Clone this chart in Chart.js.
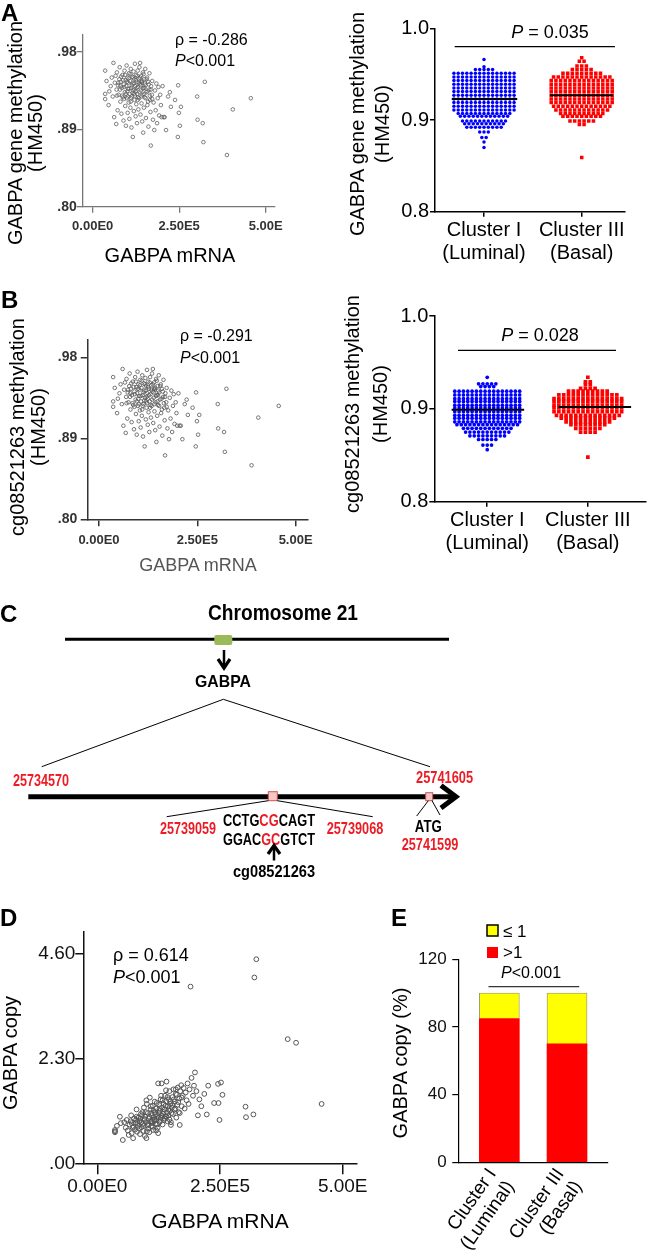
<!DOCTYPE html>
<html>
<head>
<meta charset="utf-8">
<title>GABPA methylation and copy number</title>
<script src="https://cdn.jsdelivr.net/npm/chart.js@4.4.1/dist/chart.umd.min.js"></script>
<style>
  html, body { margin: 0; padding: 0; background: #fff; }
  #page { position: relative; width: 650px; height: 1250px; overflow: hidden; }
  #page canvas { position: absolute; }
  #overlay { position: absolute; left: 0; top: 0; pointer-events: none; }
  #overlay text { font-family: 'Liberation Sans', Arial, sans-serif; dominant-baseline: central; }
</style>
</head>
<body>
<div id="page">
  <canvas id="scatterA"></canvas>
  <canvas id="swarmA"></canvas>
  <canvas id="scatterB"></canvas>
  <canvas id="swarmB"></canvas>
  <canvas id="scatterD"></canvas>
  <canvas id="barE"></canvas>
  <svg id="overlay" width="650" height="1250">
    <g font-weight="bold" font-size="24">
      <text x="1" y="12">A</text>
      <text x="1" y="299">B</text>
      <text x="0" y="613">C</text>
      <text x="0" y="917">D</text>
      <text x="391" y="917">E</text>
    </g>

    <!-- A -->
    <text x="175" y="39" font-size="16">ρ = -0.286</text>
    <text x="175" y="60" font-size="16"><tspan font-style="italic">P</tspan>&lt;0.001</text>
    <g font-size="20" text-anchor="middle">
      <text transform="translate(15,133) rotate(-90)">GABPA gene methylation</text>
      <text transform="translate(35,133) rotate(-90)">(HM450)</text>
      <text x="170" y="255">GABPA mRNA</text>
      <text transform="translate(357,124) rotate(-90)">GABPA gene methylation</text>
      <text transform="translate(382,124) rotate(-90)">(HM450)</text>
    </g>
    <text x="550" y="32" font-size="18" text-anchor="middle"><tspan font-style="italic">P</tspan> = 0.035</text>

    <!-- B -->
    <text x="180" y="335" font-size="16">ρ = -0.291</text>
    <text x="180" y="357" font-size="16"><tspan font-style="italic">P</tspan>&lt;0.001</text>
    <g font-size="20" text-anchor="middle">
      <text transform="translate(17,427) rotate(-90)">cg08521263 methylation</text>
      <text transform="translate(38,427) rotate(-90)">(HM450)</text>
      <text transform="translate(352,404) rotate(-90)">cg08521263 methylation</text>
      <text transform="translate(380,404) rotate(-90)">(HM450)</text>
    </g>
    <text x="198" y="565" font-size="18" text-anchor="middle" fill="#555">GABPA mRNA</text>
    <text x="540" y="335" font-size="18" text-anchor="middle"><tspan font-style="italic">P</tspan> = 0.028</text>

    <!-- C: gene diagram -->
    <g transform="translate(0,600)" font-weight="bold">
      <text x="283" y="12" font-size="22" text-anchor="middle" textLength="150" lengthAdjust="spacingAndGlyphs">Chromosome 21</text>
      <line x1="65" y1="39.3" x2="449" y2="39.3" stroke="#000" stroke-width="3"/>
      <rect x="214.3" y="35" width="18" height="10" rx="2" fill="#9bbb59"/>
      <line x1="224" y1="50" x2="224" y2="67" stroke="#000" stroke-width="2.5"/>
      <polyline points="218,59 224,68 230,59" fill="none" stroke="#000" stroke-width="3.2"/>
      <text x="223" y="81" font-size="17" text-anchor="middle" textLength="56" lengthAdjust="spacingAndGlyphs">GABPA</text>
      <line x1="223.3" y1="99.3" x2="41.7" y2="166.7" stroke="#000" stroke-width="1"/>
      <line x1="223.3" y1="99.3" x2="430" y2="166.7" stroke="#000" stroke-width="1"/>
      <text x="13" y="180" font-size="16" fill="#ed1c24" textLength="56" lengthAdjust="spacingAndGlyphs">25734570</text>
      <text x="416" y="177.3" font-size="16" fill="#ed1c24" textLength="57" lengthAdjust="spacingAndGlyphs">25741605</text>
      <line x1="28.3" y1="196.7" x2="452" y2="196.7" stroke="#000" stroke-width="5"/>
      <polyline points="441,185.5 456,196.7 441,208" fill="none" stroke="#000" stroke-width="5"/>
      <rect x="268.3" y="191.7" width="9" height="9" fill="#f9c6c6" stroke="#c55" stroke-width="1"/>
      <rect x="425.7" y="192.7" width="7" height="8" fill="#f9c6c6" stroke="#c55" stroke-width="1"/>
      <line x1="268.3" y1="200.7" x2="166.7" y2="216.7" stroke="#000" stroke-width="1"/>
      <line x1="277.3" y1="200.7" x2="372.7" y2="216.7" stroke="#000" stroke-width="1"/>
      <text x="160" y="228.3" font-size="16" fill="#ed1c24" textLength="56" lengthAdjust="spacingAndGlyphs">25739059</text>
      <text x="223" y="220" font-size="16" textLength="92" lengthAdjust="spacingAndGlyphs">CCTG<tspan fill="#ed1c24">CG</tspan>CAGT</text>
      <text x="223" y="239.3" font-size="16" textLength="92" lengthAdjust="spacingAndGlyphs">GGAC<tspan fill="#ed1c24">GC</tspan>GTCT</text>
      <text x="326.7" y="228.3" font-size="16" fill="#ed1c24" textLength="56.6" lengthAdjust="spacingAndGlyphs">25739068</text>
      <line x1="274" y1="247" x2="274" y2="260.5" stroke="#000" stroke-width="2.5"/>
      <polyline points="268,254 274,245.5 280,254" fill="none" stroke="#000" stroke-width="3.2"/>
      <text x="274" y="271.7" font-size="16" text-anchor="middle" textLength="82" lengthAdjust="spacingAndGlyphs">cg08521263</text>
      <line x1="428.3" y1="200.7" x2="416.7" y2="216" stroke="#000" stroke-width="1"/>
      <line x1="432" y1="200.7" x2="440" y2="215" stroke="#000" stroke-width="1"/>
      <text x="428.3" y="226.7" font-size="16" text-anchor="middle" textLength="27" lengthAdjust="spacingAndGlyphs">ATG</text>
      <text x="401.7" y="244" font-size="16" fill="#ed1c24" textLength="56.6" lengthAdjust="spacingAndGlyphs">25741599</text>
    </g>

    <!-- D -->
    <text x="113" y="955" font-size="18">ρ = 0.614</text>
    <text x="113" y="977" font-size="18"><tspan font-style="italic">P</tspan>&lt;0.001</text>
    <text transform="translate(10,1053) rotate(-90)" font-size="20" text-anchor="middle">GABPA copy</text>
    <text x="220" y="1220" font-size="21" text-anchor="middle">GABPA mRNA</text>

    <!-- E -->
    <text transform="translate(400,1063) rotate(-90)" font-size="20" text-anchor="middle">GABPA copy (%)</text>
    <text x="531" y="972" font-size="16" text-anchor="middle"><tspan font-style="italic">P</tspan>&lt;0.001</text>
    <rect x="487" y="925" width="11" height="11" fill="#ffff00" stroke="#000" stroke-width="1.5"/>
    <text x="503" y="931" font-size="17">≤ 1</text>
    <rect x="487" y="947" width="11" height="11" fill="#ff0000"/>
    <text x="503" y="952" font-size="17">&gt;1</text>
  </svg>
</div>

<script>
const FONT = "'Liberation Sans', Arial, sans-serif";
Chart.defaults.font.family = FONT;

// GABPA mRNA (x 1e5), gene methylation (HM450) and copy number, one entry per tumour
const mrnaE5 = [
  0.36, 0.36, 0.36, 0.40, 0.46, 0.48, 0.52, 0.55, 0.58, 0.60,
  0.62, 0.64, 0.66, 0.68, 0.69, 0.70, 0.72, 0.73, 0.75, 0.77,
  0.78, 0.80, 0.81, 0.83, 0.84, 0.86, 0.87, 0.89, 0.90, 0.92,
  0.93, 0.94, 0.95, 0.96, 0.97, 0.98, 0.99, 1.00, 1.01, 1.02,
  1.03, 1.04, 1.05, 1.06, 1.07, 1.08, 1.09, 1.10, 1.11, 1.12,
  1.13, 1.14, 1.15, 1.16, 1.17, 1.18, 1.19, 1.20, 1.21, 1.22,
  1.23, 1.24, 1.24, 1.25, 1.26, 1.27, 1.28, 1.29, 1.30, 1.31,
  1.32, 1.33, 1.34, 1.35, 1.36, 1.37, 1.38, 1.39, 1.40, 1.41,
  1.42, 1.43, 1.44, 1.45, 1.46, 1.47, 1.48, 1.49, 1.50, 1.52,
  1.53, 1.54, 1.55, 1.57, 1.58, 1.60, 1.61, 1.63, 1.64, 1.66,
  1.67, 1.68, 1.69, 1.71, 1.72, 1.74, 1.76, 1.78, 1.80, 1.82,
  1.84, 1.86, 1.88, 1.90, 1.92, 1.95, 1.97, 1.99, 2.02, 2.05,
  2.08, 2.12, 2.18, 2.23, 2.26, 2.38, 2.46, 2.47, 2.49, 2.52, 2.55,
  3.02, 3.03, 3.18, 3.20, 3.24, 3.88, 4.05, 4.57,
  0.74, 0.79, 0.82, 0.85, 0.88, 0.91, 0.94, 0.96, 0.99, 1.01,
  1.04, 1.06, 1.09, 1.11, 1.13, 1.15, 1.17, 1.19, 1.21, 1.22,
  1.25, 1.27, 1.29, 1.31, 1.33, 1.35, 1.37, 1.39, 1.41, 1.43,
  1.45, 1.47, 1.49, 1.51, 1.53, 1.56, 1.59, 1.62, 1.65, 1.68,
  1.72, 0.90, 1.00, 1.10, 1.20, 1.30, 1.40, 1.50, 1.60, 0.70, 0.80
];
const methylation = [
  0.958, 0.931, 0.925, 0.946, 0.918, 0.934, 0.940, 0.950, 0.928, 0.967,
  0.904, 0.944, 0.952, 0.896, 0.936, 0.956, 0.912, 0.941, 0.930, 0.948,
  0.962, 0.922, 0.945, 0.908, 0.938, 0.953, 0.927, 0.900, 0.942, 0.958,
  0.933, 0.917, 0.947, 0.894, 0.940, 0.964, 0.926, 0.950, 0.909, 0.937,
  0.944, 0.921, 0.955, 0.902, 0.931, 0.946, 0.915, 0.960, 0.938, 0.892,
  0.928, 0.951, 0.943, 0.881, 0.935, 0.957, 0.911, 0.948, 0.924, 0.966,
  0.940, 0.905, 0.934, 0.953, 0.919, 0.945, 0.897, 0.931, 0.958, 0.939,
  0.913, 0.949, 0.926, 0.962, 0.942, 0.967, 0.907, 0.935, 0.952, 0.920,
  0.944, 0.899, 0.930, 0.956, 0.886, 0.938, 0.915, 0.948, 0.927, 0.960,
  0.941, 0.903, 0.933, 0.950, 0.918, 0.945, 0.893, 0.936, 0.955, 0.924,
  0.910, 0.871, 0.940, 0.930, 0.946, 0.901, 0.921, 0.889, 0.935, 0.912,
  0.943, 0.897, 0.926, 0.939, 0.906, 0.930, 0.918, 0.904, 0.940, 0.904,
  0.904, 0.889, 0.928, 0.933, 0.916, 0.924, 0.881, 0.941, 0.909, 0.894, 0.916,
  0.928, 0.901, 0.897, 0.875, 0.945, 0.860, 0.913, 0.926,
  0.944, 0.936, 0.951, 0.929, 0.947, 0.939, 0.953, 0.931, 0.945, 0.928,
  0.949, 0.937, 0.954, 0.926, 0.941, 0.932, 0.950, 0.943, 0.936, 0.929,
  0.947, 0.938, 0.952, 0.927, 0.944, 0.933, 0.950, 0.941, 0.928, 0.946,
  0.937, 0.954, 0.931, 0.943, 0.926, 0.948, 0.934, 0.942, 0.929, 0.936,
  0.925, 0.925, 0.934, 0.922, 0.931, 0.924, 0.945, 0.938, 0.922, 0.929, 0.940
];
const copyNumber = [
  0.73, 0.68, 0.70, 0.82, 1.02, 0.88, 0.51, 0.90, 0.78, 0.95,
  0.72, 0.62, 0.85, 0.92, 1.05, 0.66, 0.78, 0.55, 0.98, 0.74,
  0.88, 1.18, 0.69, 0.82, 1.00, 0.93, 0.64, 1.08, 0.79, 1.12,
  0.86, 0.71, 1.22, 0.95, 0.60, 1.02, 0.90, 0.55, 1.30, 0.83,
  1.10, 0.76, 0.98, 0.68, 1.44, 0.92, 1.18, 0.81, 1.05, 0.88,
  1.26, 0.73, 1.00, 0.94, 1.35, 1.12, 0.86, 1.20, 0.97, 1.04,
  0.78, 0.66, 1.75, 1.10, 1.28, 0.90, 1.15, 1.40, 1.00, 1.75,
  1.22, 0.85, 1.08, 1.30, 0.95, 1.18, 1.48, 1.02, 1.36, 1.79,
  1.12, 0.92, 1.25, 1.05, 1.40, 1.58, 1.15, 1.30, 0.90, 1.22,
  1.45, 1.08, 1.62, 1.18, 1.35, 1.52, 1.00, 1.28, 1.66, 1.12,
  1.42, 0.84, 1.58, 1.71, 1.25, 1.48, 1.65, 1.20, 1.55, 1.38,
  1.75, 1.30, 1.62, 3.87, 1.87, 1.48, 1.70, 1.99, 1.58, 1.05,
  1.40, 1.25, 1.52, 1.07, 1.70, 1.32, 1.74, 1.32, 0.95, 1.77, 1.50,
  1.24, 1.01, 1.07, 4.07, 4.47, 2.72, 2.64, 1.30,
  0.80, 0.95, 0.88, 0.76, 0.98, 1.05, 0.82, 0.97, 1.12, 0.70,
  0.86, 1.02, 1.25, 0.92, 0.80, 1.15, 0.96, 1.08, 1.32, 0.85,
  1.00, 1.20, 0.95, 1.05, 1.38, 1.12, 0.98, 1.26, 1.02, 1.45,
  1.18, 0.96, 1.35, 1.10, 1.28, 1.40, 1.20, 1.50, 1.34, 1.10,
  1.44, 0.90, 1.38, 1.10, 0.72, 1.48, 1.60, 0.84, 1.62, 0.88, 1.02
];

const clusters = [['Cluster I', '(Luminal)'], ['Cluster III', '(Basal)']];

// dot plots: methylation level of each row of dots and how many dots sit on it
const lumLevelsA = [0.966, 0.958, 0.955, 0.951, 0.947, 0.943, 0.939, 0.935, 0.931, 0.927, 0.923, 0.919,
  0.915, 0.911, 0.907, 0.904, 0.899, 0.896, 0.892, 0.887, 0.881, 0.876, 0.870];
const lumCountsA = [1, 1, 5, 15, 15, 15, 15, 15, 15, 15, 15, 15, 15, 15, 13, 12, 11, 10, 9, 3, 2, 1, 1];
const basLevelsA = [0.968, 0.964, 0.959, 0.955, 0.951, 0.947, 0.943, 0.939, 0.935, 0.931, 0.927, 0.923,
  0.919, 0.915, 0.911, 0.907, 0.904, 0.899, 0.895, 0.859];
const basCountsA = [1, 2, 3, 5, 9, 13, 14, 14, 14, 14, 14, 14, 14, 13, 12, 10, 9, 6, 2, 1];
const meanA = [0.923, 0.927];
const pBarA = 0.98;

const lumLevelsB = [0.934, 0.927, 0.924, 0.919, 0.915, 0.911, 0.908, 0.904, 0.901, 0.897, 0.893, 0.890,
  0.886, 0.883, 0.879, 0.875, 0.871, 0.867, 0.861, 0.856];
const lumCountsB = [1, 5, 4, 16, 16, 16, 16, 16, 16, 16, 16, 16, 16, 15, 12, 11, 9, 5, 3, 1];
const basLevelsB = [0.934, 0.929, 0.926, 0.922, 0.919, 0.915, 0.911, 0.908, 0.904, 0.901, 0.897, 0.893,
  0.890, 0.886, 0.883, 0.879, 0.875, 0.848];
const basCountsB = [1, 2, 2, 4, 9, 13, 15, 15, 15, 15, 15, 14, 12, 10, 8, 6, 4, 1];
const meanB = [0.899, 0.902];
const pBarB = 0.963;

// E: share of tumours by copy number (%)
const copyGt1 = [85, 70];
const copyLe1 = [15, 30];
const pBarE = 103.8;

// tick values and labels
const mrnaTicks = [0, 2.5, 5];
const mrnaTickLabels = ['0.00E0', '2.50E5', '5.00E'];
const methylTicks = [0.80, 0.89, 0.98];
const methylTickLabels = ['.80', '.89', '.98'];
const betaTicks = [0.8, 0.9, 1.0];
const betaTickLabels = ['0.8', '0.9', '1.0'];
const copyTicks = [0, 2.3, 4.6];
const copyTickLabels = ['.00', '2.30', '4.60'];
const pctTicks = [0, 40, 80, 120];
const pctTickLabels = ['0', '40', '80', '120'];

// ---- helpers ----
const pts = (xs, ys) => xs.map((x, i) => ({x, y: ys[i]}));

// lay the dots of each row side by side around the group centre
function swarm(levels, counts, center, step) {
  const out = [];
  levels.forEach((y, r) => {
    const n = counts[r];
    for (let i = 0; i < n; i++) out.push({x: center + (i - (n - 1) / 2) * step, y});
  });
  return out;
}

const seg = (x0, x1, y, w) => ({
  data: [{x: x0, y}, {x: x1, y}], showLine: true, pointRadius: 0,
  borderColor: '#000', borderWidth: w, clip: false
});

function axis(o) {
  return {
    type: 'linear', min: o.min, max: o.max, offset: false, stacked: !!o.stacked,
    border: {display: true, color: o.color, width: o.width},
    grid: {display: o.tick > 0, drawOnChartArea: false, drawTicks: o.tick > 0, tickLength: o.tick,
      color: o.color, lineWidth: o.width, offset: false},
    ticks: {autoSkip: false, maxRotation: o.rot || 0, minRotation: o.rot || 0, padding: o.pad,
      color: o.labelColor || '#000', font: o.font, callback: (v, i) => o.labels[i]},
    afterBuildTicks: s => { s.ticks = o.values.map(v => ({value: v})); },
    afterFit: s => {
      if (s.isHorizontal()) s.height = o.size; else s.width = o.size;
      s.paddingLeft = 0; s.paddingRight = 0; s.paddingTop = 0; s.paddingBottom = 0;
    }
  };
}

function makeChart(id, box, area, datasets, xo, yo, type) {
  const c = document.getElementById(id);
  c.style.left = box.x + 'px';
  c.style.top = box.y + 'px';
  c.width = box.w;
  c.height = box.h;
  xo.size = box.y + box.h - area.b;
  yo.size = area.l - box.x;
  return new Chart(c, {
    type: type || 'scatter',
    data: {datasets},
    options: {
      responsive: false, animation: false, events: [],
      layout: {padding: {top: area.t - box.y, right: box.x + box.w - area.r, left: 0, bottom: 0}},
      plugins: {legend: {display: false}, tooltip: {enabled: false}},
      scales: {x: axis(xo), y: axis(yo)}
    }
  });
}

const hollow = (r, w, c) => ({pointStyle: 'circle', pointRadius: r, borderWidth: w, borderColor: c,
  backgroundColor: 'rgba(255,255,255,0)'});

// ---- A ----
makeChart('scatterA', {x: 0, y: 0, w: 330, h: 290}, {l: 82.7, t: 34.5, r: 275, b: 206.7},
  [Object.assign({data: pts(mrnaE5, methylation)}, hollow(1.8, 0.8, '#5f5f5f'))],
  {min: -0.289, max: 5.269, values: mrnaTicks, labels: mrnaTickLabels, tick: 6, pad: 6.2,
    color: '#777', width: 1.3, font: {size: 13, weight: 'bold'}, labelColor: '#333'},
  {min: 0.8, max: 1.0, values: methylTicks, labels: methylTickLabels, tick: 6, pad: 0,
    color: '#777', width: 1.3, font: {size: 14, weight: 'bold'}, labelColor: '#333'});

makeChart('swarmA', {x: 330, y: 0, w: 320, h: 290}, {l: 435, t: 28.3, r: 625, b: 211.7},
  [
    seg(-0.30, 1.34, pBarA, 1.3),
    seg(-0.33, 0.34, meanA[0], 2),
    seg(0.675, 1.32, meanA[1], 2),
    {data: swarm(lumLevelsA, lumCountsA, 0, 0.044), pointStyle: 'circle', pointRadius: 1.75,
      backgroundColor: '#0000ff', borderWidth: 0},
    {data: swarm(basLevelsA, basCountsA, 1, 0.048), pointStyle: 'rect', pointRadius: 2.5,
      backgroundColor: '#ff0000', borderWidth: 0}
  ],
  {min: -0.5015, max: 1.443, values: [0, 1], labels: clusters, tick: 5, pad: 1.65,
    color: '#000', width: 1.5, font: {size: 20, lineHeight: 1.165}},
  {min: 0.8, max: 1.0, values: betaTicks, labels: betaTickLabels, tick: 5, pad: 1,
    color: '#000', width: 1.5, font: {size: 20}});

// ---- B ----
makeChart('scatterB', {x: 0, y: 300, w: 330, h: 290}, {l: 87.7, t: 339.3, r: 307.3, b: 519.3},
  [Object.assign({data: pts(mrnaE5, methylation)}, hollow(1.8, 0.8, '#555'))],
  {min: -0.287, max: 5.297, values: mrnaTicks, labels: mrnaTickLabels, tick: 7, pad: 5.9,
    color: '#333', width: 1.5, font: {size: 13, weight: 'bold'}, labelColor: '#333'},
  {min: 0.8, max: 1.0, values: methylTicks, labels: methylTickLabels, tick: 7, pad: 3.4,
    color: '#333', width: 1.5, font: {size: 14, weight: 'bold'}, labelColor: '#333'});

makeChart('swarmB', {x: 330, y: 300, w: 320, h: 290}, {l: 434.3, t: 316, r: 648, b: 501.7},
  [
    seg(-0.29, 1.28, pBarB, 1.3),
    seg(-0.354, 0.367, meanB[0], 2),
    seg(0.71, 1.43, meanB[1], 2),
    {data: swarm(lumLevelsB, lumCountsB, 0, 0.043), pointStyle: 'circle', pointRadius: 1.85,
      backgroundColor: '#0000ff', borderWidth: 0},
    {data: swarm(basLevelsB, basCountsB, 1, 0.048), pointStyle: 'rect', pointRadius: 2.6,
      backgroundColor: '#ff0000', borderWidth: 0}
  ],
  {min: -0.526, max: 1.578, values: [0, 1], labels: clusters, tick: 5, pad: 1.65,
    color: '#000', width: 1.5, font: {size: 20, lineHeight: 1.165}},
  {min: 0.8, max: 1.0, values: betaTicks, labels: betaTickLabels, tick: 5, pad: 1,
    color: '#000', width: 1.5, font: {size: 20}});

// ---- D ----
makeChart('scatterD', {x: 0, y: 905, w: 390, h: 345}, {l: 83.3, t: 931.7, r: 356.7, b: 1163.3},
  [Object.assign({data: pts(mrnaE5, copyNumber)}, hollow(2.4, 1, '#555'))],
  {min: -0.285, max: 5.285, values: mrnaTicks, labels: mrnaTickLabels, tick: 11, pad: 1,
    color: '#111', width: 1.5, font: {size: 19}, labelColor: '#111'},
  {min: 0, max: 5.073, values: copyTicks, labels: copyTickLabels, tick: 8, pad: 0,
    color: '#111', width: 1.5, font: {size: 19}, labelColor: '#111'});

// ---- E ----
makeChart('barE', {x: 390, y: 905, w: 260, h: 345}, {l: 458.3, t: 959.3, r: 607.3, b: 1162.3},
  [
    Object.assign(seg(-0.16, 1.18, pBarE, 1), {type: 'line', stack: 'p'}),
    {label: '>1', data: copyGt1.map((v, i) => ({x: i, y: v})), backgroundColor: '#ff0000',
      borderWidth: 0, barThickness: 40, stack: 's'},
    {label: '≤ 1', data: copyLe1.map((v, i) => ({x: i, y: v})), backgroundColor: '#ffff00',
      borderColor: '#888', borderWidth: 0.8, barThickness: 40, stack: 's'}
  ],
  {min: -0.606, max: 1.595, values: [-0.1, 0.9], labels: clusters, tick: 0, pad: 2, rot: 55, stacked: true,
    color: '#000', width: 1.2, font: {size: 19, lineHeight: 1.15}},
  {min: 0, max: 120, values: pctTicks, labels: pctTickLabels, tick: 6, pad: 5.6, stacked: true,
    color: '#000', width: 1.2, font: {size: 17}, labelColor: '#111'},
  'bar');
</script>
</body>
</html>
